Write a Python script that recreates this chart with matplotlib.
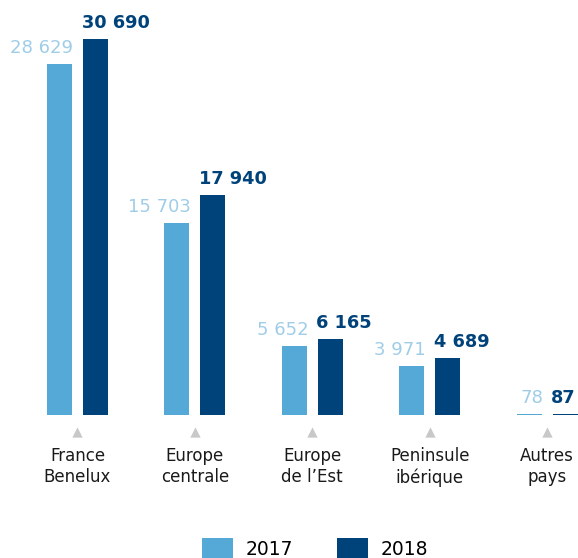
import matplotlib.pyplot as plt
import numpy as np

plt.rcParams['font.family'] = ['DejaVu Sans']

regions = ['France\nBenelux', 'Europe\ncentrale', 'Europe\nde l\u2019Est',
           'Peninsule\nibérique', 'Autres\npays']
values_2017 = [28629, 15703, 5652, 3971, 78]
values_2018 = [30690, 17940, 6165, 4689, 87]
years = ['2017', '2018']

light = '#55a9d6'
dark = '#00427a'
light_text = '#9fcde8'

fig = plt.figure(figsize=(5.78, 5.58), dpi=100)
ax = fig.add_axes([0, 0.2563, 1, 0.7437])

x = np.arange(len(regions))
width = 0.213
offset = 0.153

bars17 = ax.bar(x - offset, values_2017, width, color=light, label=years[0])
bars18 = ax.bar(x + offset, values_2018, width, color=dark, label=years[1])

# value labels: 2017 flush right on its bar, 2018 flush left on its bar
for b, v in zip(bars17, values_2017):
    ax.annotate('{:,}'.format(v).replace(',', ' '),
                (b.get_x() + b.get_width(), v), xytext=(1, 5),
                textcoords='offset points', ha='right', va='bottom',
                fontsize=13, color=light_text)
for b, v in zip(bars18, values_2018):
    ax.annotate('{:,}'.format(v).replace(',', ' '),
                (b.get_x(), v), xytext=(-1, 5),
                textcoords='offset points', ha='left', va='bottom',
                fontsize=12.8, color=dark, fontweight='bold')

# small grey pointers under each group
ax.scatter(x, [-0.042] * len(x), marker='^', s=55, color='#c8c8c8',
           transform=ax.get_xaxis_transform(), clip_on=False, linewidths=0)

ax.set_xticks(x)
ax.set_xticklabels(regions, fontsize=12, color='#1a1a1a', linespacing=1.22)
ax.tick_params(axis='x', length=0, pad=23)
ax.set_yticks([])
ax.set_xlim(-0.66, 4.263)
ax.set_ylim(0, 33863)
for s in ax.spines.values():
    s.set_visible(False)

fig.legend(handles=[bars17, bars18], labels=years, loc='upper center',
           bbox_to_anchor=(0.545, 0.036), ncol=2, frameon=False,
           fontsize=13.5, handlelength=1.65, handleheight=1.4,
           handletextpad=0.7, columnspacing=2.3, borderpad=0,
           borderaxespad=0)

fig.savefig('out.png', dpi=100)
